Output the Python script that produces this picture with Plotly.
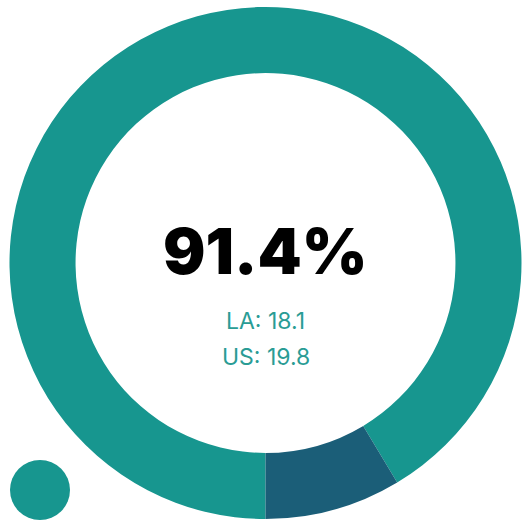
import plotly.graph_objects as go

labels = ["Share", "Remainder"]
values = [91.4, 8.6]
colors = ["#17968f", "#1b5e78"]
headline = "91.4%"
sublines = ["LA: 18.1", "US: 19.8"]

W, H = 523, 521
cx, cy, R = 265.5, 263.0, 256.0

fig = go.Figure(go.Pie(
    labels=labels, values=values, sort=False, direction="clockwise",
    rotation=180, hole=0.742, textinfo="none", hoverinfo="none",
    marker=dict(colors=colors, line=dict(width=0)),
    domain=dict(x=[(cx - R) / W, (cx + R) / W], y=[(H - cy - R) / H, (H - cy + R) / H]),
    showlegend=False,
))

fig.add_annotation(text=headline, x=cx / W, y=1 - 251 / H, xref="paper", yref="paper",
                   xanchor="center", yanchor="middle", showarrow=False,
                   font=dict(family="Inter", size=63, color="#000000", weight=900))
for i, s in enumerate(sublines):
    fig.add_annotation(text=s, x=cx / W, y=1 - (321 + 36 * i) / H, xref="paper", yref="paper",
                       xanchor="center", yanchor="middle", showarrow=False,
                       font=dict(family="Inter", size=23, color="#2a9c95", weight=400))

fig.add_shape(type="circle", xref="paper", yref="paper",
              x0=10 / W, x1=70 / W, y0=1 - 520 / H, y1=1 - 460 / H,
              fillcolor=colors[0], line=dict(width=0))

fig.update_layout(width=W, height=H, margin=dict(l=0, r=0, t=0, b=0),
                  paper_bgcolor="white", plot_bgcolor="white")
fig.write_html("out.html")
